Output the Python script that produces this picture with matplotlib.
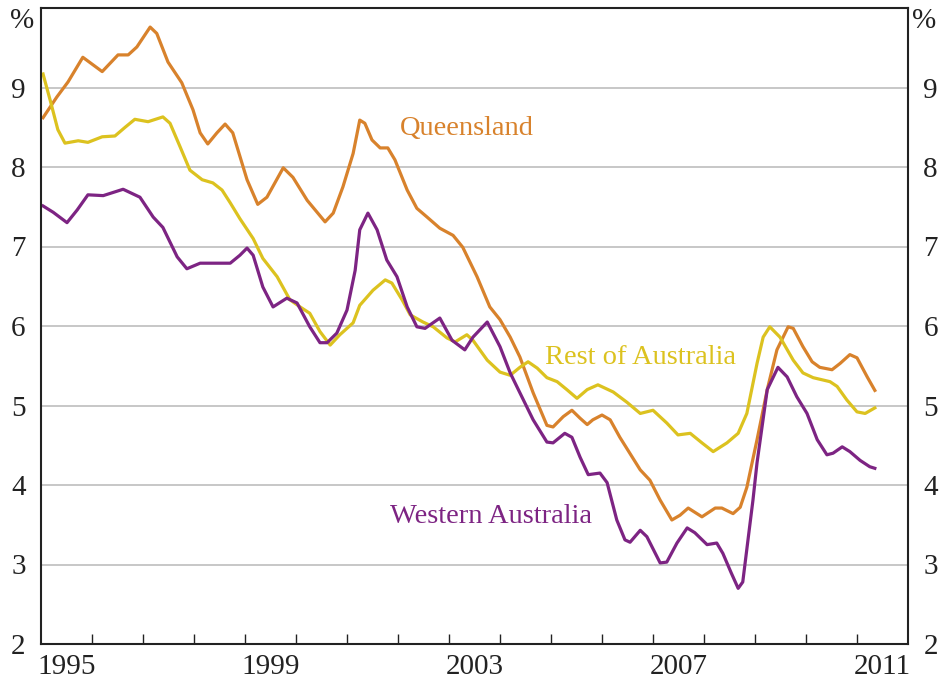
import numpy as np
import matplotlib
matplotlib.use("Agg")
import matplotlib.pyplot as plt
from matplotlib.ticker import FixedLocator, NullFormatter

# ==========================================================
# Data (unemployment rate, %)
# ==========================================================

qld_dates = [
    1995.04, 1995.31, 1995.53, 1995.82, 1996.20, 1996.51, 1996.71, 1996.88,
    1997.14, 1997.27, 1997.49, 1997.76, 1997.98, 1998.12, 1998.27, 1998.45,
    1998.61, 1998.76, 1999.04, 1999.25, 1999.43, 1999.75, 1999.94, 2000.22,
    2000.57, 2000.73, 2000.92, 2001.12, 2001.25, 2001.35, 2001.49, 2001.65,
    2001.80, 2001.94, 2002.18, 2002.37, 2002.57, 2002.82, 2003.08, 2003.27,
    2003.55, 2003.80, 2004.00, 2004.20, 2004.39, 2004.65, 2004.92, 2005.04,
    2005.24, 2005.41, 2005.57, 2005.71, 2005.82, 2006.00, 2006.16, 2006.35,
    2006.75, 2006.94, 2007.14, 2007.37, 2007.53, 2007.69, 2007.96, 2008.22,
    2008.35, 2008.57, 2008.71, 2008.84, 2009.04, 2009.24, 2009.43, 2009.65,
    2009.75, 2009.94, 2010.12, 2010.27, 2010.51, 2010.67, 2010.86, 2011.00,
    2011.20, 2011.35,
]
qld_rate = [
    8.62, 8.88, 9.07, 9.38, 9.20, 9.41, 9.41, 9.51,
    9.76, 9.68, 9.32, 9.06, 8.72, 8.43, 8.29, 8.43,
    8.54, 8.43, 7.84, 7.53, 7.62, 7.99, 7.87, 7.58,
    7.31, 7.42, 7.75, 8.17, 8.59, 8.55, 8.34, 8.24,
    8.24, 8.09, 7.71, 7.48, 7.37, 7.23, 7.14, 6.99,
    6.62, 6.24, 6.08, 5.86, 5.61, 5.16, 4.75, 4.73,
    4.86, 4.94, 4.84, 4.76, 4.82, 4.88, 4.82, 4.60,
    4.19, 4.06, 3.81, 3.56, 3.62, 3.71, 3.60, 3.71,
    3.71, 3.64, 3.72, 3.97, 4.57, 5.20, 5.70, 5.99,
    5.97, 5.74, 5.55, 5.48, 5.45, 5.53, 5.64, 5.60,
    5.36, 5.19,
]

rest_dates = [
    1995.04, 1995.18, 1995.33, 1995.47, 1995.73, 1995.92, 1996.20, 1996.45,
    1996.65, 1996.84, 1997.10, 1997.39, 1997.53, 1997.73, 1997.92, 1998.16,
    1998.37, 1998.55, 1998.71, 1998.90, 1999.16, 1999.35, 1999.63, 1999.88,
    2000.08, 2000.27, 2000.47, 2000.67, 2000.86, 2001.12, 2001.25, 2001.51,
    2001.75, 2001.88, 2002.08, 2002.24, 2002.49, 2002.69, 2002.96, 2003.12,
    2003.35, 2003.47, 2003.75, 2004.00, 2004.20, 2004.39, 2004.55, 2004.73,
    2004.92, 2005.12, 2005.31, 2005.51, 2005.71, 2005.92, 2006.22, 2006.49,
    2006.75, 2007.00, 2007.27, 2007.49, 2007.73, 2007.96, 2008.18, 2008.45,
    2008.67, 2008.84, 2009.04, 2009.16, 2009.29, 2009.49, 2009.75, 2009.94,
    2010.14, 2010.47, 2010.61, 2010.80, 2011.00, 2011.16, 2011.35,
]
rest_rate = [
    9.17, 8.84, 8.47, 8.30, 8.33, 8.31, 8.38, 8.39,
    8.50, 8.60, 8.57, 8.63, 8.55, 8.25, 7.96, 7.84,
    7.80, 7.71, 7.55, 7.35, 7.10, 6.85, 6.62, 6.33,
    6.24, 6.16, 5.93, 5.76, 5.89, 6.04, 6.26, 6.45,
    6.58, 6.54, 6.33, 6.14, 6.05, 5.99, 5.85, 5.80,
    5.89, 5.82, 5.57, 5.42, 5.38, 5.48, 5.55, 5.47,
    5.35, 5.30, 5.20, 5.09, 5.20, 5.26, 5.17, 5.04,
    4.90, 4.94, 4.78, 4.63, 4.65, 4.53, 4.42, 4.53,
    4.65, 4.90, 5.53, 5.86, 5.99, 5.86, 5.57, 5.41,
    5.35, 5.30, 5.24, 5.07, 4.92, 4.90, 4.97,
]

wa_dates = [
    1995.04, 1995.24, 1995.51, 1995.71, 1995.92, 1996.22, 1996.61, 1996.94,
    1997.20, 1997.39, 1997.67, 1997.86, 1998.12, 1998.45, 1998.71, 1998.90,
    1999.04, 1999.16, 1999.35, 1999.55, 1999.82, 2000.02, 2000.27, 2000.47,
    2000.61, 2000.80, 2001.00, 2001.16, 2001.25, 2001.41, 2001.59, 2001.78,
    2001.98, 2002.18, 2002.37, 2002.53, 2002.82, 2003.06, 2003.31, 2003.47,
    2003.75, 2004.00, 2004.20, 2004.39, 2004.65, 2004.92, 2005.04, 2005.27,
    2005.41, 2005.57, 2005.73, 2005.96, 2006.10, 2006.29, 2006.45, 2006.55,
    2006.75, 2006.88, 2007.14, 2007.27, 2007.47, 2007.67, 2007.82, 2008.06,
    2008.25, 2008.37, 2008.53, 2008.67, 2008.76, 2008.88, 2008.96, 2009.04,
    2009.24, 2009.45, 2009.63, 2009.82, 2010.02, 2010.22, 2010.41, 2010.53,
    2010.71, 2010.86, 2011.06, 2011.25, 2011.35,
]
wa_rate = [
    7.51, 7.43, 7.30, 7.46, 7.65, 7.64, 7.72, 7.62,
    7.37, 7.24, 6.87, 6.72, 6.79, 6.79, 6.79, 6.89,
    6.98, 6.89, 6.49, 6.24, 6.35, 6.29, 5.99, 5.79,
    5.79, 5.91, 6.20, 6.70, 7.21, 7.42, 7.21, 6.83,
    6.62, 6.24, 5.99, 5.97, 6.10, 5.82, 5.70, 5.86,
    6.05, 5.74, 5.41, 5.16, 4.82, 4.54, 4.53, 4.65,
    4.60, 4.35, 4.13, 4.15, 4.03, 3.56, 3.31, 3.28,
    3.43, 3.35, 3.02, 3.03, 3.27, 3.46, 3.40, 3.25,
    3.27, 3.14, 2.90, 2.70, 2.78, 3.40, 3.81, 4.28,
    5.20, 5.48, 5.36, 5.11, 4.90, 4.57, 4.38, 4.40,
    4.48, 4.42, 4.31, 4.23, 4.21,
]

year_labels = ["1995", "1999", "2003", "2007", "2011"]
y_ticks = [2, 3, 4, 5, 6, 7, 8, 9]

# ==========================================================
# Style
# ==========================================================

plt.rcParams["font.family"] = ["Liberation Serif", "DejaVu Serif"]

QLD_COLOR = "#D8822C"
REST_COLOR = "#DCC21F"
WA_COLOR = "#7D2483"
GRID_COLOR = "#BDBDBD"
AXIS_COLOR = "#222222"

fig = plt.figure(figsize=(9.39, 6.92), dpi=100)
ax = fig.add_axes([41 / 939, 48 / 692, 867 / 939, 636 / 692])

ax.plot(qld_dates, qld_rate, color=QLD_COLOR, lw=2.3, solid_joinstyle="round")
ax.plot(rest_dates, rest_rate, color=REST_COLOR, lw=2.3, solid_joinstyle="round")
ax.plot(wa_dates, wa_rate, color=WA_COLOR, lw=2.3, solid_joinstyle="round")

ax.set_xlim(1995, 2012)
ax.set_ylim(2, 10)

# gridlines
for v in y_ticks[1:]:
    ax.axhline(v, color=GRID_COLOR, lw=1.2, zorder=0)

# x axis: year ticks inside, labels centred on each year
ax.xaxis.set_major_locator(FixedLocator([int(y) + 0.5 for y in year_labels]))
ax.set_xticklabels(year_labels)
ax.xaxis.set_minor_locator(FixedLocator(list(range(1996, 2012))))
ax.xaxis.set_minor_formatter(NullFormatter())
ax.tick_params(axis="x", which="major", length=0, pad=7, labelsize=21,
               labelcolor=AXIS_COLOR)
ax.tick_params(axis="x", which="minor", direction="in", length=7.5,
               width=1.0, color=AXIS_COLOR)

# y axis: labels on both sides
ax.set_yticks(y_ticks)
ax.set_yticklabels([str(v) for v in y_ticks])
ax.tick_params(axis="y", length=0, pad=11, labelsize=21, labelcolor=AXIS_COLOR,
               left=True, right=True, labelleft=True, labelright=True)

for s in ax.spines.values():
    s.set_color(AXIS_COLOR)
    s.set_linewidth(1.5)

# unit labels
ax.text(-0.022, 0.98, "%", transform=ax.transAxes, fontsize=21,
        ha="center", va="center", color=AXIS_COLOR)
ax.text(1.019, 0.98, "%", transform=ax.transAxes, fontsize=21,
        ha="center", va="center", color=AXIS_COLOR)

# series labels
ax.text(2003.35, 8.49, "Queensland", color=QLD_COLOR, fontsize=20.5,
        ha="center", va="center")
ax.text(2006.76, 5.6, "Rest of Australia", color=REST_COLOR, fontsize=20.5,
        ha="center", va="center")
ax.text(2003.82, 3.6, "Western Australia", color=WA_COLOR, fontsize=20.5,
        ha="center", va="center")

plt.savefig("out.png", dpi=100)
plt.close()
